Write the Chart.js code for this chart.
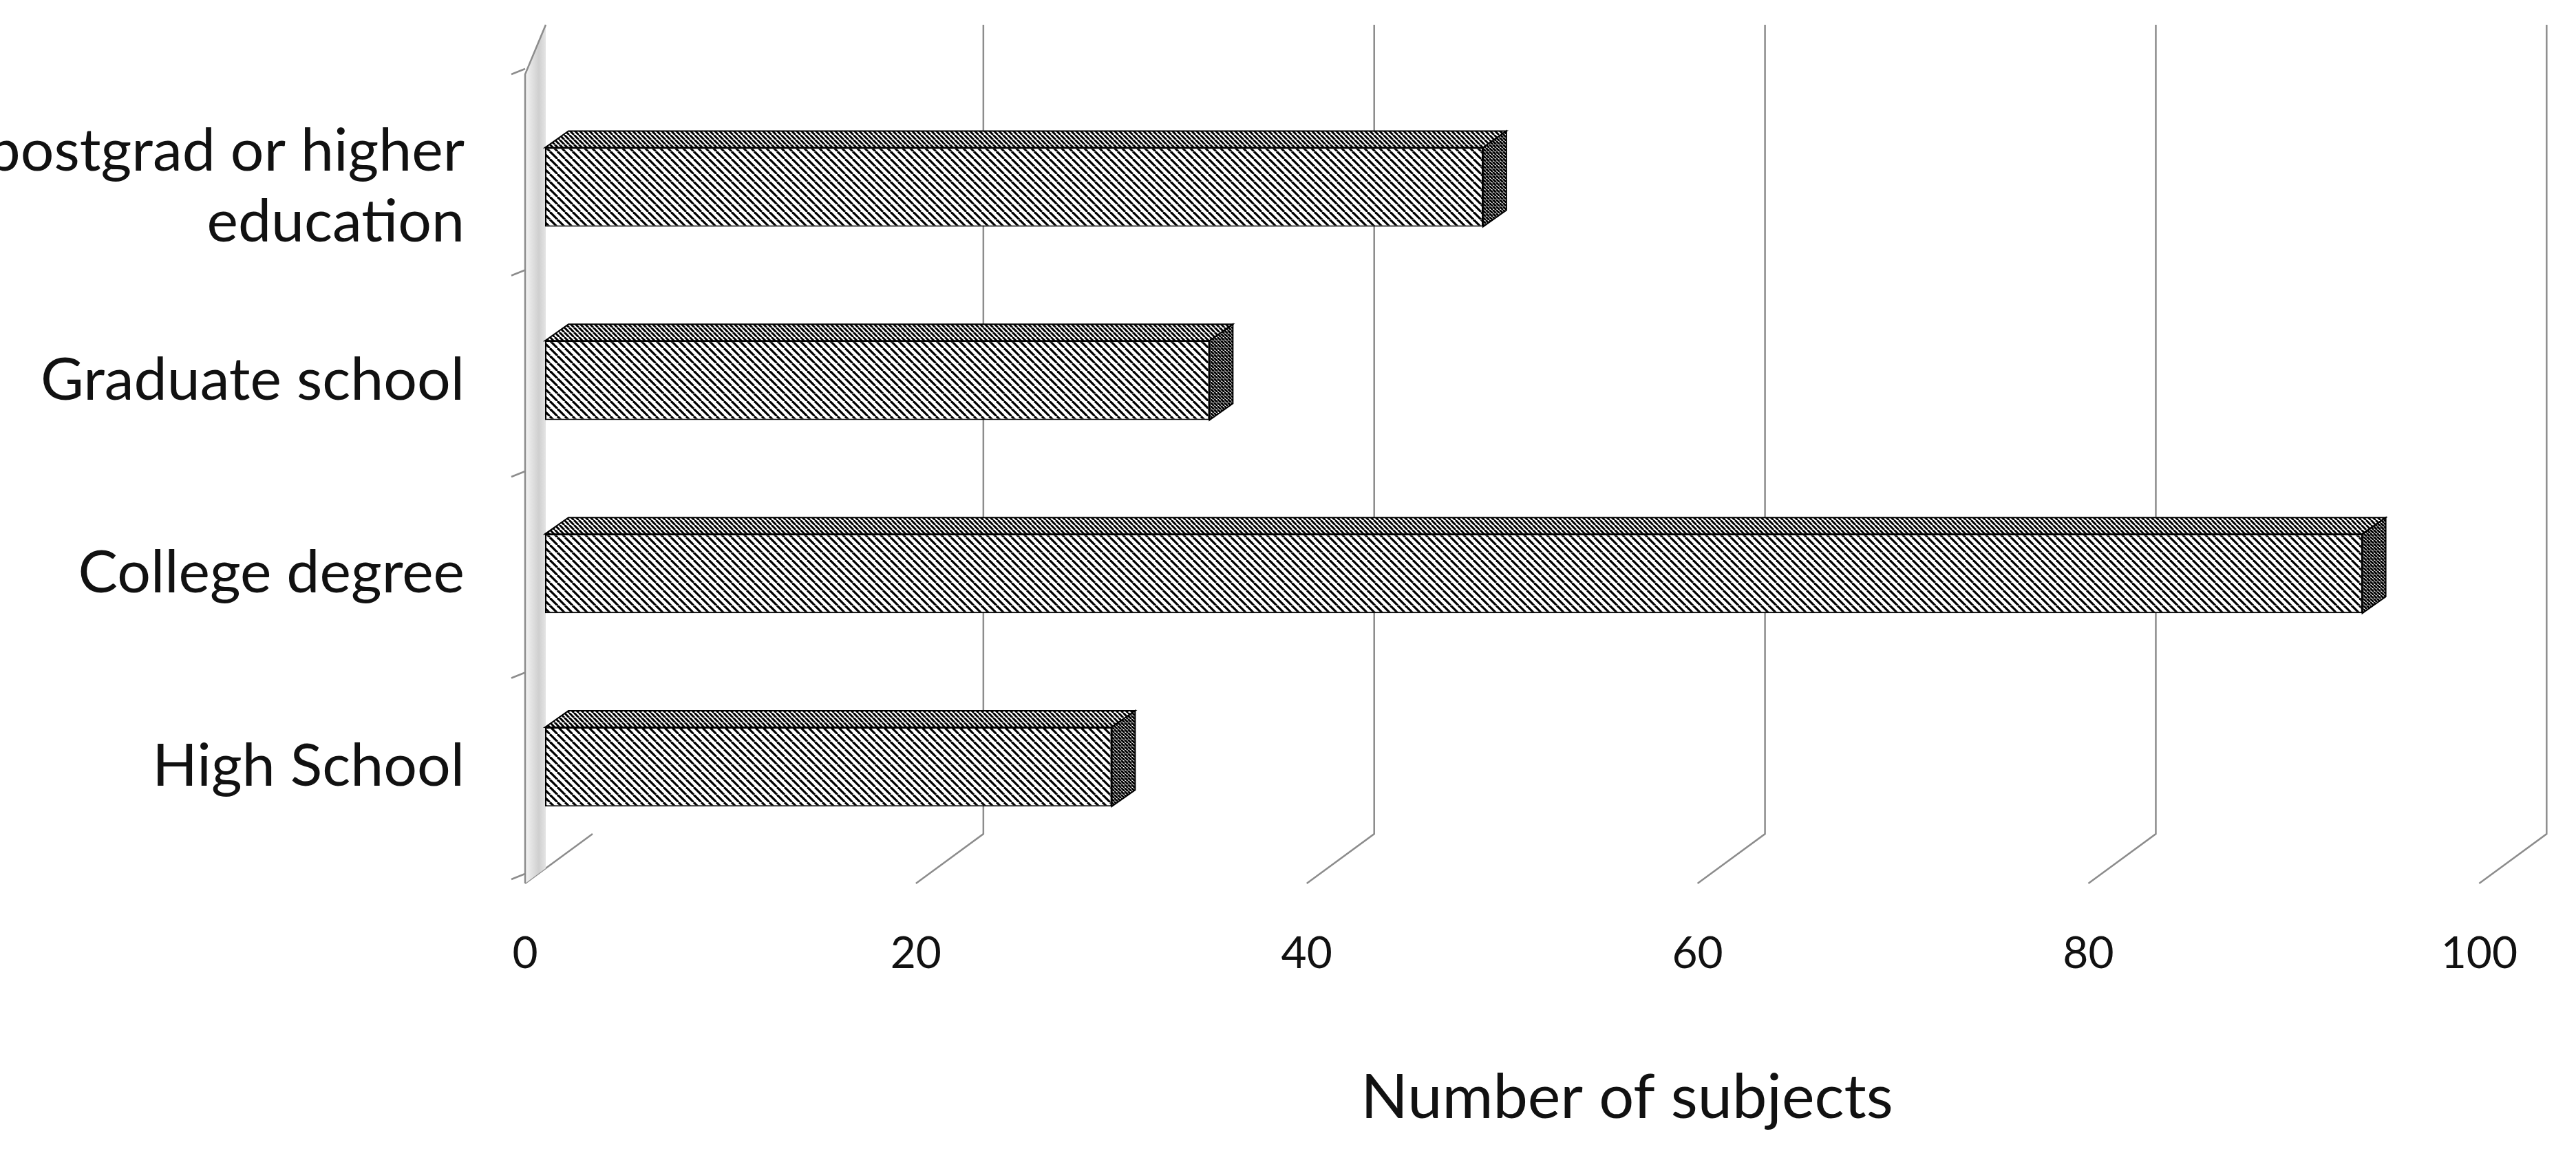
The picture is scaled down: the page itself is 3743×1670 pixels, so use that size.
<!DOCTYPE html>
<html><head><meta charset="utf-8">
<script src="https://cdn.jsdelivr.net/npm/chart.js@4"></script>
<style>html,body{margin:0;background:#fff}#w{width:3743px;height:1670px}</style>
</head><body><div id="w"><canvas id="c"></canvas></div>
<script>
const categories = [["postgrad or higher","education"], "Graduate school", "College degree", "High School"];
const values = [48, 34, 93, 29];
const xTicks = [0, 20, 40, 60, 80, 100];
const xTitle = 'Number of subjects';

function makePattern(step, lw, bg){
  const p=document.createElement('canvas');p.width=step;p.height=step;
  const g=p.getContext('2d');g.fillStyle=bg;g.fillRect(0,0,step,step);
  g.strokeStyle='#000';g.lineWidth=lw;
  for(const o of [-step,0,step]){g.beginPath();g.moveTo(o,0);g.lineTo(o+step,step);g.stroke();}
  return document.createElement('canvas').getContext('2d').createPattern(p,'repeat');
}
const frontPat = makePattern(11,3.2,'#fff');
const topPat = makePattern(7,3,'#fff');
const sidePat = makePattern(5,3,'#fff');
const DX=98, DY=-72;

const threeD = {
  id:'threeD',
  beforeDatasetsDraw(chart){
    const {ctx, chartArea:a, scales:{x}} = chart;
    const floorY = a.bottom+29, topY = 36;
    ctx.save();ctx.strokeStyle='#8c8c8c';ctx.lineWidth=2.5;
    xTicks.forEach(v=>{
      const px=x.getPixelForValue(v);
      ctx.beginPath();ctx.moveTo(px,floorY);ctx.lineTo(px+DX,floorY+DY);
      if(v>0) ctx.lineTo(px+DX,topY);
      ctx.stroke();
    });
    const x0=x.getPixelForValue(0);
    const g=ctx.createLinearGradient(x0,0,x0+40,0);
    g.addColorStop(0,'#f4f4f4');g.addColorStop(0.5,'#cfcfcf');g.addColorStop(1,'#fafafa');
    ctx.fillStyle=g;ctx.beginPath();ctx.moveTo(x0,floorY);ctx.lineTo(x0,topY+72);ctx.lineTo(x0+30,topY);ctx.lineTo(x0+30,floorY-22);ctx.closePath();ctx.fill();
    ctx.beginPath();ctx.moveTo(x0,floorY);ctx.lineTo(x0,topY+72);ctx.lineTo(x0+30,topY);ctx.stroke();
    for(let i=0;i<=4;i++){const y=108+i*292.5;ctx.beginPath();ctx.moveTo(x0-20,y);ctx.lineTo(x0,y-8);ctx.stroke();}
    ctx.fillStyle='#111';ctx.font='90px Lato';ctx.textAlign='center';ctx.textBaseline='middle';
    ctx.fillText(xTitle,2364,1596);
    ctx.restore();
    ctx.save();ctx.translate(29,0);
  },
  afterDatasetsDraw(chart){
    const {ctx} = chart;
    const meta = chart.getDatasetMeta(0);
    ctx.save();ctx.strokeStyle='#000';ctx.lineWidth=2;
    meta.data.forEach(b=>{
      const L=b.base, R=b.x, T=b.y-b.height/2, B=b.y+b.height/2, dx=34, dy=-24;
      ctx.fillStyle=topPat;ctx.beginPath();ctx.moveTo(L,T);ctx.lineTo(L+dx,T+dy);ctx.lineTo(R+dx,T+dy);ctx.lineTo(R,T);ctx.closePath();ctx.fill();ctx.stroke();
      ctx.fillStyle=sidePat;ctx.beginPath();ctx.moveTo(R,T);ctx.lineTo(R+dx,T+dy);ctx.lineTo(R+dx,B+dy);ctx.lineTo(R,B);ctx.closePath();ctx.fill();ctx.stroke();
    });
    ctx.restore();
    ctx.restore();
  }
};

new Chart(document.getElementById('c'),{
  type:'bar',
  data:{labels:categories,datasets:[{data:values,backgroundColor:frontPat,borderColor:'#000',borderWidth:2,borderSkipped:false,barPercentage:0.41,categoryPercentage:1}]},
  options:{
    indexAxis:'y',responsive:true,maintainAspectRatio:false,animation:false,
    layout:{padding:{top:87,right:124,left:0,bottom:0}},
    plugins:{legend:{display:false},tooltip:{enabled:false}},
    scales:{
      x:{min:0,max:100,grid:{display:false},border:{display:false},
        ticks:{stepSize:20,padding:85,color:'#111',font:{family:'Lato',size:64}},
        afterFit(s){s.height=415;}},
      y:{grid:{display:false},border:{display:false},
        ticks:{padding:80,color:'#111',font:{family:'Lato',size:86}},
        afterFit(s){s.width=763;}}
    }
  },
  plugins:[threeD]
});
</script></body></html>
